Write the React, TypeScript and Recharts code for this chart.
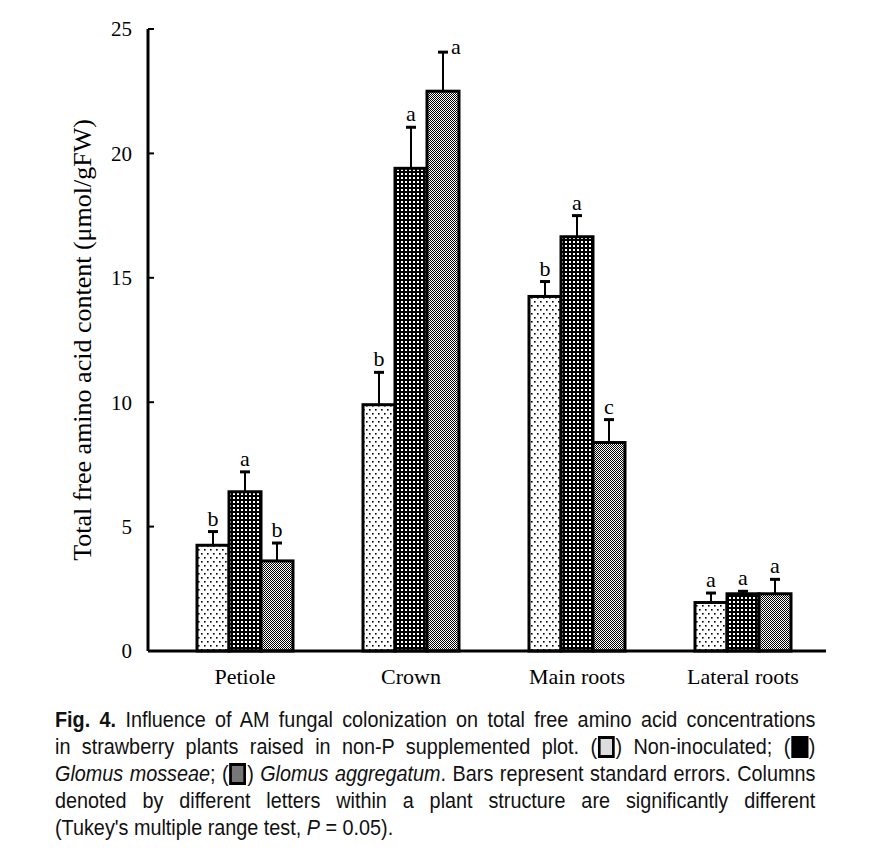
import React from "react";
import { BarChart, Bar, XAxis, YAxis } from "recharts";

// plant structures on the x axis
const categories = ["Petiole", "Crown", "Main roots", "Lateral roots"];

// total free amino acid content (µmol/gFW) and standard errors
const nonInoculated = [4.25, 9.9, 14.25, 1.95];
const nonInoculatedSe = [0.55, 1.3, 0.6, 0.38];
const mosseae = [6.4, 19.4, 16.65, 2.3];
const mosseaeSe = [0.8, 1.65, 0.85, 0.1];
const aggregatum = [3.62, 22.5, 8.38, 2.3];
const aggregatumSe = [0.72, 1.57, 0.92, 0.58];

// Tukey letters
const nonInoculatedLetters = ["b", "b", "b", "a"];
const mosseaeLetters = ["a", "a", "a", "a"];
const aggregatumLetters = ["b", "a", "c", "a"];

const yTicks = [0, 5, 10, 15, 20, 25];

const data = categories.map((name, i) => ({
  name,
  nonInoculated: nonInoculated[i],
  mosseae: mosseae[i],
  aggregatum: aggregatum[i],
}));

const SERIF = "'Liberation Serif', 'Times New Roman', serif";
const seList = [nonInoculatedSe, mosseaeSe, aggregatumSe];
const letterList = [nonInoculatedLetters, mosseaeLetters, aggregatumLetters];
const patterns = ["url(#pNon)", "url(#pMos)", "url(#pAgg)"];
const yMax = yTicks[yTicks.length - 1];

// bar with pattern, one-sided error bar and significance letter
const makeShape = (s: number) => (props: any) => {
  const { x, y, width, height, index } = props;
  const v = s === 0 ? nonInoculated[index] : s === 1 ? mosseae[index] : aggregatum[index];
  const se = seList[s][index];
  const ppu = height / v; // pixels per unit from the bar's own scale
  const top = y - se * ppu;
  const cx = x + width / 2;
  const side = v + se > yMax - 1.5; // too close to the frame, put letter to the right
  return (
    <g>
      <rect x={x} y={y} width={width} height={height} fill={patterns[s]} stroke="#000" strokeWidth={3} />
      <line x1={cx} x2={cx} y1={y} y2={top} stroke="#000" strokeWidth={2} />
      <line x1={cx - 5} x2={cx + 5} y1={top} y2={top} stroke="#000" strokeWidth={3} />
      <text
        x={side ? cx + 8 : cx}
        y={side ? top + 2 : top - 6}
        textAnchor={side ? "start" : "middle"}
        fontFamily={SERIF}
        fontSize={22}
        fill="#000"
      >
        {letterList[s][index]}
      </text>
    </g>
  );
};

const YLabel = (props: any) => {
  const vb = props.viewBox || { x: 0, y: 0, width: 140, height: 600 };
  const cx = vb.x + vb.width * 0.55;
  const cy = vb.y + vb.height / 2;
  return (
    <text
      x={cx}
      y={cy}
      transform={`rotate(-90 ${cx} ${cy})`}
      textAnchor="middle"
      dominantBaseline="middle"
      fontFamily={SERIF}
      fontSize={26}
      fill="#000"
    >
      Total free amino acid content (μmol/gFW)
    </text>
  );
};

const axisStroke = { stroke: "#000", strokeWidth: 3 };

const Box = ({ fill }: { fill: string }) => (
  <span
    style={{
      display: "inline-block",
      width: 13,
      height: 16,
      background: fill,
      border: "3px solid #000",
      verticalAlign: "-4px",
      margin: "0 1px",
    }}
  />
);

const lineStyle = { textAlign: "justify" as const, textAlignLast: "justify" as const };

export default function App() {
  return (
    <div style={{ width: 880 }}>
      <BarChart
        width={880}
        height={682}
        data={data}
        margin={{ top: 21, right: 62, left: 0, bottom: 0 }}
        barSize={32}
        barGap={0}
      >
        <defs>
          <pattern id="pNon" width="6" height="8" patternUnits="userSpaceOnUse">
            <rect width="6" height="8" fill="#fff" />
            <rect x="1" y="1" width="1.6" height="1.6" fill="#000" />
            <rect x="4" y="5" width="1.6" height="1.6" fill="#000" />
          </pattern>
          <pattern id="pMos" width="4" height="4" patternUnits="userSpaceOnUse">
            <rect width="4" height="4" fill="#000" />
            <rect x="1" y="1" width="2" height="2" fill="#fff" />
          </pattern>
          <pattern id="pAgg" width="2" height="2" patternUnits="userSpaceOnUse">
            <rect width="2" height="2" fill="#fff" />
            <rect x="0" y="0" width="1" height="1" fill="#000" />
            <rect x="1" y="1" width="1" height="1" fill="#000" />
          </pattern>
        </defs>
        <XAxis
          dataKey="name"
          interval={0}
          tickLine={false}
          tickSize={0}
          tickMargin={17}
          height={39}
          padding={{ left: 14, right: 0 }}
          axisLine={axisStroke}
          tick={{ fill: "#000", fontSize: 22, fontFamily: SERIF }}
        />
        <XAxis xAxisId="top" orientation="top" height={0} tick={false} tickLine={false} axisLine={axisStroke} />
        <YAxis
          domain={[0, yMax]}
          ticks={yTicks}
          width={140}
          tickSize={-6}
          tickMargin={22}
          tickLine={{ stroke: "#000", strokeWidth: 2 }}
          axisLine={axisStroke}
          tick={{ fill: "#000", fontSize: 21, fontFamily: SERIF }}
          label={<YLabel />}
        />
        <YAxis yAxisId="right" orientation="right" width={0} tick={false} tickLine={false} axisLine={axisStroke} />
        <Bar dataKey="nonInoculated" shape={makeShape(0)} isAnimationActive={false} />
        <Bar dataKey="mosseae" shape={makeShape(1)} isAnimationActive={false} />
        <Bar dataKey="aggregatum" shape={makeShape(2)} isAnimationActive={false} />
      </BarChart>
      <div
        style={{
          marginTop: 16,
          marginLeft: 47,
          width: 864,
          transform: "scaleX(0.88)",
          transformOrigin: "left top",
          fontFamily: "'Liberation Sans', Arial, sans-serif",
          fontSize: 22.5,
          lineHeight: "27px",
          color: "#111",
        }}
      >
        <div style={lineStyle}>
          <b>Fig. 4.</b> Influence of AM fungal colonization on total free amino acid concentrations
        </div>
        <div style={lineStyle}>
          in strawberry plants raised in non-P supplemented plot. (<Box fill="#ddd" />) Non-inoculated; (
          <Box fill="#000" />)
        </div>
        <div style={lineStyle}>
          <i>Glomus mosseae</i>; (<Box fill="#777" />) <i>Glomus aggregatum</i>. Bars represent standard errors. Columns
        </div>
        <div style={lineStyle}>
          denoted by different letters within a plant structure are significantly different
        </div>
        <div>
          (Tukey's multiple range test, <i>P</i> = 0.05).
        </div>
      </div>
    </div>
  );
}
